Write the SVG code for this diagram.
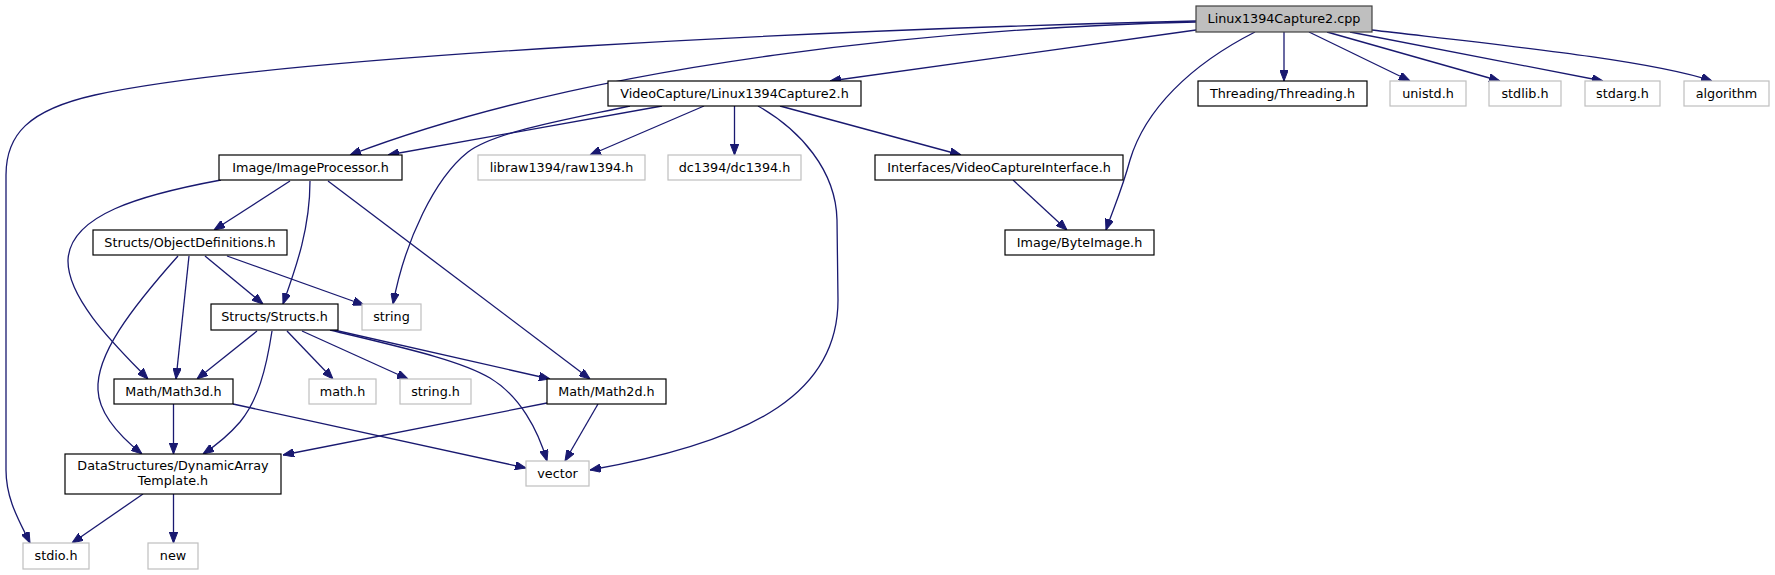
<svg xmlns="http://www.w3.org/2000/svg" width="1775" height="575" viewBox="0 0 1775 575">
<style>
text{font-family:"DejaVu Sans","Liberation Sans",sans-serif;font-size:12.75px;fill:#000;text-anchor:middle}
.d{fill:#fff;stroke:#000;stroke-width:1.2}
.x{fill:#fff;stroke:#bfbfbf;stroke-width:1.2}
.r{fill:#bfbfbf;stroke:#404040;stroke-width:1.2}
#edges path{fill:none;stroke:#191970;stroke-width:1.3;marker-end:url(#ah)}
</style>
<defs>
<marker id="ah" viewBox="0 0 11 8.5" refX="11" refY="4.25" markerWidth="11" markerHeight="8.5" markerUnits="userSpaceOnUse" orient="auto">
<path d="M0,0 L11,4.25 L0,8.5 z" fill="#191970" stroke="#191970" stroke-width="1"/>
</marker>
</defs>
<rect width="1775" height="575" fill="#fff"/>
<g id="edges">
<path d="M1196,21 C850,29 280,55 95,95 C28,110 6,135 6,175 L6,470 C6,500 20,522 30,543"/>
<path d="M1196,22 C950,28 600,60 350,155"/>
<path d="M1196,30 L830,81"/>
<path d="M1255,32 C1190,65 1145,110 1130,160 C1122,190 1112,212 1106,230"/>
<path d="M1284,32 L1284,81"/>
<path d="M1309,32 L1410,81"/>
<path d="M1327,32 L1500,81"/>
<path d="M1350,32 L1603,81"/>
<path d="M1372,30 C1500,45 1650,60 1712,81"/>
<path d="M662,106 L388,155"/>
<path d="M630,106 C560,121 495,132 468,152 C435,178 405,240 393,304"/>
<path d="M704,106 L590,155"/>
<path d="M734.5,106 L734.5,155"/>
<path d="M758,106 C800,130 836,170 837,220 L838,300 C838,390 760,440 590,470"/>
<path d="M780,106 L961,155"/>
<path d="M221,180 C140,195 70,215 68,260 C67,300 120,350 148,379"/>
<path d="M290,181 L214,230"/>
<path d="M310,181 C310,230 295,270 283,304"/>
<path d="M328,181 L590,379"/>
<path d="M178,256 C130,310 96,355 98,390 C99,415 122,438 142,454"/>
<path d="M189,256 L176,379"/>
<path d="M205,256 L263,304"/>
<path d="M227,256 L364,305"/>
<path d="M257,331 L197,379"/>
<path d="M272,331 C266,370 258,400 240,422 C228,436 215,446 203,454"/>
<path d="M287,331 L333,379"/>
<path d="M302,331 L408,379"/>
<path d="M330,330 C400,347 460,360 490,378 C520,396 538,430 547,461"/>
<path d="M334,330 L550,379"/>
<path d="M173.5,404 L173.5,454"/>
<path d="M233,404 L526,468"/>
<path d="M547,403 L283,455"/>
<path d="M598,404 L565,461"/>
<path d="M143,494 L72,543"/>
<path d="M173.5,494 L173.5,543"/>
<path d="M1013,180 L1067,230"/>
</g>
<g id="n_cpp"><rect class="r" x="1196" y="6" width="176" height="26"/><text x="1284" y="23">Linux1394Capture2.cpp</text></g>
<g id="n_vc"><rect class="d" x="608" y="81" width="253" height="25"/><text x="734.5" y="98">VideoCapture/Linux1394Capture2.h</text></g>
<g id="n_thr"><rect class="d" x="1198" y="81" width="169" height="25"/><text x="1282.5" y="98">Threading/Threading.h</text></g>
<g id="n_unistd"><rect class="x" x="1390" y="81" width="76" height="25"/><text x="1428" y="98">unistd.h</text></g>
<g id="n_stdlib"><rect class="x" x="1489" y="81" width="72" height="25"/><text x="1525" y="98">stdlib.h</text></g>
<g id="n_stdarg"><rect class="x" x="1585" y="81" width="75" height="25"/><text x="1622.5" y="98">stdarg.h</text></g>
<g id="n_alg"><rect class="x" x="1684" y="81" width="85" height="25"/><text x="1726.5" y="98">algorithm</text></g>
<g id="n_ip"><rect class="d" x="219" y="155" width="183" height="25"/><text x="310.5" y="172">Image/ImageProcessor.h</text></g>
<g id="n_raw"><rect class="x" x="478" y="155" width="167" height="25"/><text x="561.5" y="172">libraw1394/raw1394.h</text></g>
<g id="n_dc"><rect class="x" x="668" y="155" width="133" height="25"/><text x="734.5" y="172">dc1394/dc1394.h</text></g>
<g id="n_vci"><rect class="d" x="875" y="155" width="248" height="25"/><text x="999" y="172">Interfaces/VideoCaptureInterface.h</text></g>
<g id="n_od"><rect class="d" x="93" y="230" width="194" height="25"/><text x="190" y="247">Structs/ObjectDefinitions.h</text></g>
<g id="n_bi"><rect class="d" x="1005" y="230" width="149" height="25"/><text x="1079.5" y="247">Image/ByteImage.h</text></g>
<g id="n_st"><rect class="d" x="211" y="304" width="127" height="26"/><text x="274.5" y="321">Structs/Structs.h</text></g>
<g id="n_string"><rect class="x" x="362" y="304" width="59" height="26"/><text x="391.5" y="321">string</text></g>
<g id="n_m3"><rect class="d" x="114" y="379" width="119" height="25"/><text x="173.5" y="396">Math/Math3d.h</text></g>
<g id="n_math"><rect class="x" x="309" y="379" width="67" height="25"/><text x="342.5" y="396">math.h</text></g>
<g id="n_strh"><rect class="x" x="400" y="379" width="71" height="25"/><text x="435.5" y="396">string.h</text></g>
<g id="n_m2"><rect class="d" x="547" y="379" width="119" height="25"/><text x="606.5" y="396">Math/Math2d.h</text></g>
<g id="n_da"><rect class="d" x="65" y="454" width="216" height="40"/><text x="173" y="470">DataStructures/DynamicArray</text><text x="173" y="484.5">Template.h</text></g>
<g id="n_vec"><rect class="x" x="526" y="461" width="63" height="25"/><text x="557.5" y="478">vector</text></g>
<g id="n_stdio"><rect class="x" x="23" y="543" width="66" height="26"/><text x="56" y="560">stdio.h</text></g>
<g id="n_new"><rect class="x" x="148" y="543" width="50" height="26"/><text x="173" y="560">new</text></g>
</svg>
